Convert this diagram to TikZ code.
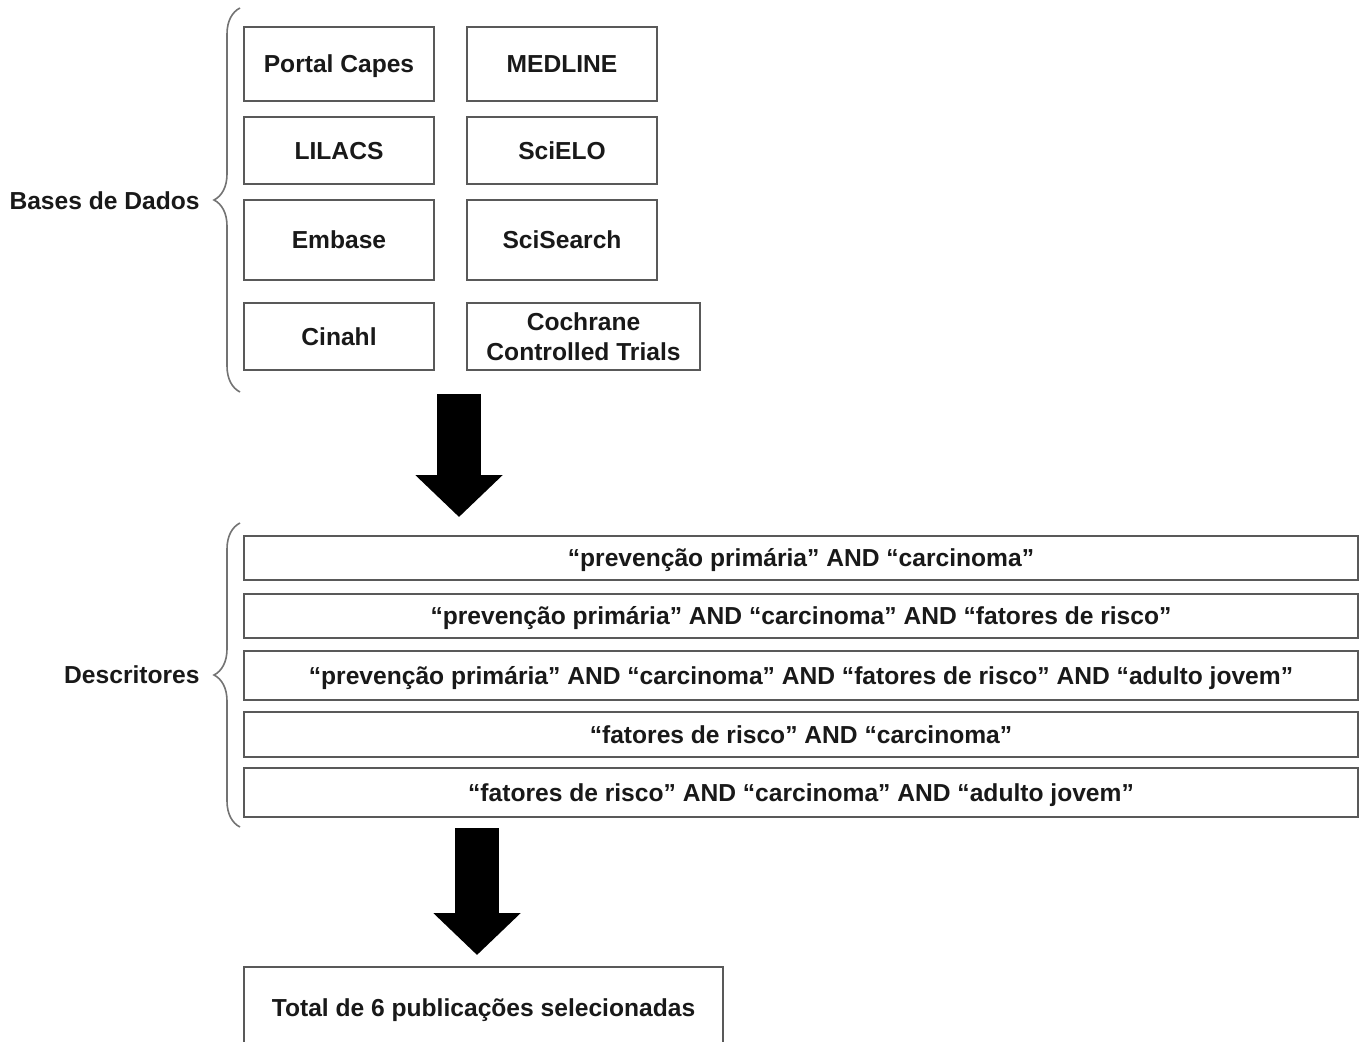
\documentclass[tikz,border=0pt]{standalone}
\usepackage{fontspec}
\setmainfont{Liberation Sans}
\usetikzlibrary{decorations.pathreplacing,arrows.meta}

\tikzset{
  dbbox/.style={draw=black!65, line width=1.1pt, align=center, inner sep=0pt,
    font=\bfseries\fontsize{12.3}{15}\selectfont, text=black!90,
    text height=8.8pt, text depth=0pt, minimum width=95pt},
  descbox/.style={dbbox, minimum width=557pt},
  curly/.style={draw=black!55, line width=0.8pt, decorate,
    decoration={brace, amplitude=13pt}},
  bigarrow/.style={line width=22pt, -{Triangle[length=21pt, width=42.5pt]}},
  sidelabel/.style={anchor=east, inner sep=0pt, text height=8.8pt, text depth=0pt,
    font=\bfseries\fontsize{12.3}{15}\selectfont, text=black!90}
}

\begin{document}
\begin{tikzpicture}[x=0.5pt, y=-0.5pt]

    \useasboundingbox (0,0) rectangle (1363,1042);

    % bases de dados
    \node[dbbox, minimum height=37pt] (portal) at (339,64) {Portal Capes};
    \node[dbbox, minimum height=37pt] (medline) at (562,64) {MEDLINE};
    \node[dbbox, minimum height=33.5pt] (lilacs) at (339,150.5) {LILACS};
    \node[dbbox, minimum height=33.5pt] (scielo) at (562,150.5) {SciELO};
    \node[dbbox, minimum height=40pt] (embase) at (339,240) {Embase};
    \node[dbbox, minimum height=40pt] (scisearch) at (562,240) {SciSearch};
    \node[dbbox, minimum height=33.5pt] (cinahl) at (339,336.5) {Cinahl};
    \node[dbbox, minimum height=33.5pt, minimum width=116.5pt, text height=23.8pt] (cochrane)
        at (583.5,336.5) {Cochrane\\Controlled Trials};

    \coordinate (brace1bot) at (240,392);
    \coordinate (brace1top) at (240,8);
    \draw[curly] (brace1bot) -- (brace1top);
    \node[sidelabel] (bases) at (200,201) {Bases de Dados};

    \coordinate (arrow1start) at (459,394);
    \coordinate (arrow1end) at (459,517);
    \draw[bigarrow] (arrow1start) -- (arrow1end);

    % descritores
    \node[descbox, minimum height=22pt] (desc1) at (801,558)
        {“prevenção primária” AND “carcinoma”};
    \node[descbox, minimum height=22pt] (desc2) at (801,616)
        {“prevenção primária” AND “carcinoma” AND “fatores de risco”};
    \node[descbox, minimum height=24.5pt] (desc3) at (801,675.5)
        {“prevenção primária” AND “carcinoma” AND “fatores de risco” AND “adulto jovem”};
    \node[descbox, minimum height=22.5pt] (desc4) at (801,734.5)
        {“fatores de risco” AND “carcinoma”};
    \node[descbox, minimum height=24.5pt] (desc5) at (801,792.5)
        {“fatores de risco” AND “carcinoma” AND “adulto jovem”};

    \coordinate (brace2bot) at (240,827);
    \coordinate (brace2top) at (240,523);
    \draw[curly] (brace2bot) -- (brace2top);
    \node[sidelabel] (descritores) at (200,675) {Descritores};

    \coordinate (arrow2start) at (477,828);
    \coordinate (arrow2end) at (477,955);
    \draw[bigarrow] (arrow2start) -- (arrow2end);

    % resultado
    \node[dbbox, minimum width=239.5pt, minimum height=41pt] (total) at (483.5,1008)
        {Total de 6 publicações selecionadas};

\end{tikzpicture}
\end{document}
